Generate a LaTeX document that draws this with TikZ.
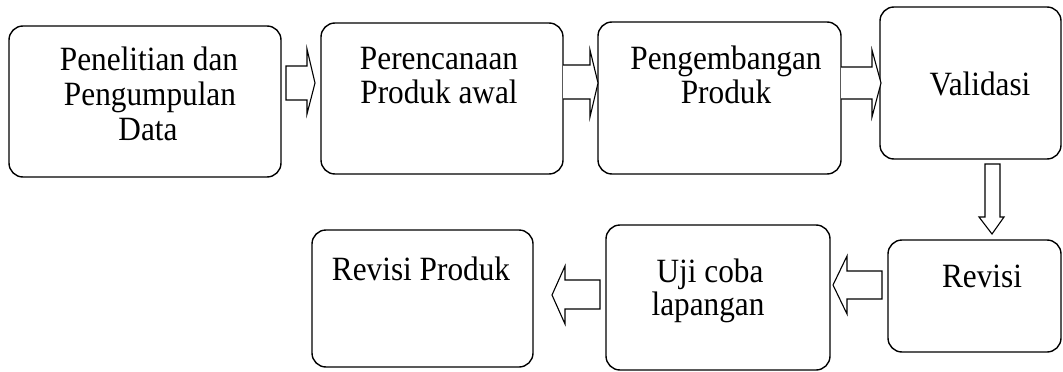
\documentclass[tikz,border=0pt]{standalone}
\usepackage{fontspec}
\setmainfont{Liberation Serif}[FakeStretch=0.92]
\begin{document}
\begin{tikzpicture}[x=1pt,y=-1pt,
  box/.style={draw=black, line width=1.4pt, rounded corners=14pt, inner sep=0pt, outer sep=0pt, fill=white},
  txt/.style={inner sep=0pt, outer sep=0pt, anchor=base, font=\fontsize{34}{36}\selectfont},
  blockarrow/.style={draw=black, line width=1.1pt, fill=white, line join=miter}]
\useasboundingbox (0,0) rectangle (1063,372);
\fill[white] (0,0) rectangle (1063,372);
% boxes
\node[box, minimum width=272pt, minimum height=151pt] (b1) at (145,101.5) {};
\node[box, minimum width=242pt, minimum height=151pt] (b2) at (442,98.5) {};
\node[box, minimum width=243pt, minimum height=152pt] (b3) at (719.5,98) {};
\node[box, minimum width=181pt, minimum height=152pt] (b4) at (970.5,83) {};
\node[box, minimum width=173pt, minimum height=112pt] (b5) at (974.5,296) {};
\node[box, minimum width=224pt, minimum height=145pt] (b6) at (718,297.5) {};
\node[box, minimum width=221pt, minimum height=137pt] (b7) at (422.5,298.5) {};
% texts
\node[txt] (t1a) at (149,70.5) {Penelitian dan};
\node[txt] (t1b) at (150,105.5) {Pengumpulan};
\node[txt] (t1c) at (148,140.5) {Data};
\node[txt] (t2a) at (439,69) {Perencanaan};
\node[txt] (t2b) at (439,103) {Produk awal};
\node[txt] (t3a) at (726,69) {Pengembangan};
\node[txt] (t3b) at (726,103) {Produk};
\node[txt] (t4) at (980,95.5) {Validasi};
\node[txt] (t5) at (982,287) {Revisi};
\node[txt] (t6a) at (710,282) {Uji coba};
\node[txt] (t6b) at (708,315.5) {lapangan};
\node[txt] (t7) at (421,280.5) {Revisi Produk};
% right arrows
\draw[blockarrow] (286,66) -- (307,66) -- (307,49) -- (315,83) -- (307,114) -- (307,100) -- (286,100) -- cycle;
\draw[blockarrow] (b2.east |- 0,65) -- (590,65) -- (590,50) -- (598,83) -- (590,117) -- (590,99) -- (b2.east |- 0,99);
\draw[blockarrow] (b3.east |- 0,67) -- (872,67) -- (872,50) -- (881,83) -- (872,117) -- (872,99) -- (b3.east |- 0,99);
% down arrow
\draw[blockarrow] (985,164) -- (1000,164) -- (1000,217) -- (1004,217) -- (992,234) -- (979,217) -- (985,217) -- cycle;
% left arrows
\draw[blockarrow] (882,271) -- (847,271) -- (847,256) -- (833,285) -- (847,314) -- (847,299) -- (882,299) -- cycle;
\draw[blockarrow] (600,280) -- (565,280) -- (565,266) -- (552,295) -- (565,324) -- (565,309) -- (600,309) -- cycle;
\end{tikzpicture}
\end{document}
